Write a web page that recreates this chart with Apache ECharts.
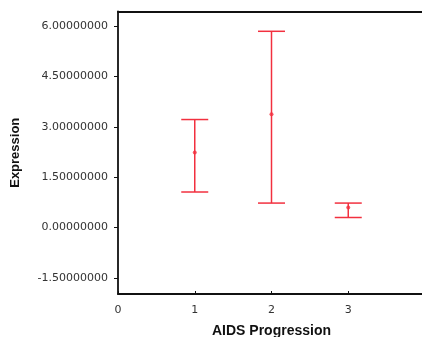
<!DOCTYPE html>
<html><head><meta charset="utf-8">
<script src="https://cdn.jsdelivr.net/npm/echarts@6/dist/echarts.min.js"></script>
<style>html,body{margin:0;padding:0;background:#fff}#c{width:422px;height:337px}</style>
</head><body><div id="c"></div>
<script>
var groups = [1, 2, 3];
var means = [2.24, 3.38, 0.60];
var upper = [3.22, 5.85, 0.73];
var lower = [1.06, 0.73, 0.30];
var yTicks = [-1.5, 0, 1.5, 3, 4.5, 6];
var xTicks = [0, 1, 2, 3];

var red = '#f2303f';
var chart = echarts.init(document.getElementById('c'));
var barData = groups.map(function (g, i) { return [g, lower[i], upper[i]]; });
var meanData = groups.map(function (g, i) { return [g, means[i]]; });

chart.setOption({
  animation: false,
  grid: { left: 118, right: -3, top: 11.5, bottom: 43, show: false, outerBoundsMode: 'none', containLabel: false },
  xAxis: [{
    type: 'value', min: 0, max: 4,
    name: 'AIDS Progression', nameLocation: 'middle', nameGap: 30,
    nameTextStyle: { fontFamily: 'Liberation Sans', fontWeight: 'bold', fontSize: 14, color: '#111' },
    axisLine: { show: true, onZero: false, lineStyle: { color: '#111', width: 1.8 } },
    axisTick: { show: true, inside: true, length: 3, customValues: xTicks, lineStyle: { color: '#111' } },
    axisLabel: { customValues: xTicks, fontFamily: 'DejaVu Sans', fontSize: 11, color: '#333', margin: 11 },
    splitLine: { show: false }
  }, {
    type: 'value', min: 0, max: 4, position: 'top',
    axisLine: { show: true, onZero: false, lineStyle: { color: '#111', width: 1.8 } },
    axisTick: { show: false }, axisLabel: { show: false }, splitLine: { show: false }
  }],
  yAxis: {
    type: 'value', min: -1.98, max: 6.44,
    name: 'Expression', nameLocation: 'middle', nameGap: 96, nameRotate: 90,
    nameTextStyle: { fontFamily: 'Liberation Sans', fontWeight: 'bold', fontSize: 13, color: '#111' },
    axisLine: { show: true, onZero: false, lineStyle: { color: '#111', width: 1.8 } },
    axisTick: { show: true, length: 4, customValues: yTicks, lineStyle: { color: '#111' } },
    axisLabel: { customValues: yTicks, fontFamily: 'DejaVu Sans', fontSize: 11, color: '#333', margin: 10,
      formatter: function (v) { return v.toFixed(8); } },
    splitLine: { show: false }
  },
  series: [{
    type: 'custom',
    data: barData,
    renderItem: function (params, api) {
      var x = api.value(0);
      var lo = api.coord([x, api.value(1)]);
      var hi = api.coord([x, api.value(2)]);
      var hw = 13.5;
      var st = { stroke: red, lineWidth: 1.5 };
      return { type: 'group', children: [
        { type: 'line', shape: { x1: lo[0], y1: lo[1], x2: hi[0], y2: hi[1] }, style: st },
        { type: 'line', shape: { x1: lo[0] - hw, y1: lo[1], x2: lo[0] + hw, y2: lo[1] }, style: st },
        { type: 'line', shape: { x1: hi[0] - hw, y1: hi[1], x2: hi[0] + hw, y2: hi[1] }, style: st }
      ] };
    }
  }, {
    type: 'scatter', data: meanData, symbolSize: 4, itemStyle: { color: red }
  }]
});
</script></body></html>
